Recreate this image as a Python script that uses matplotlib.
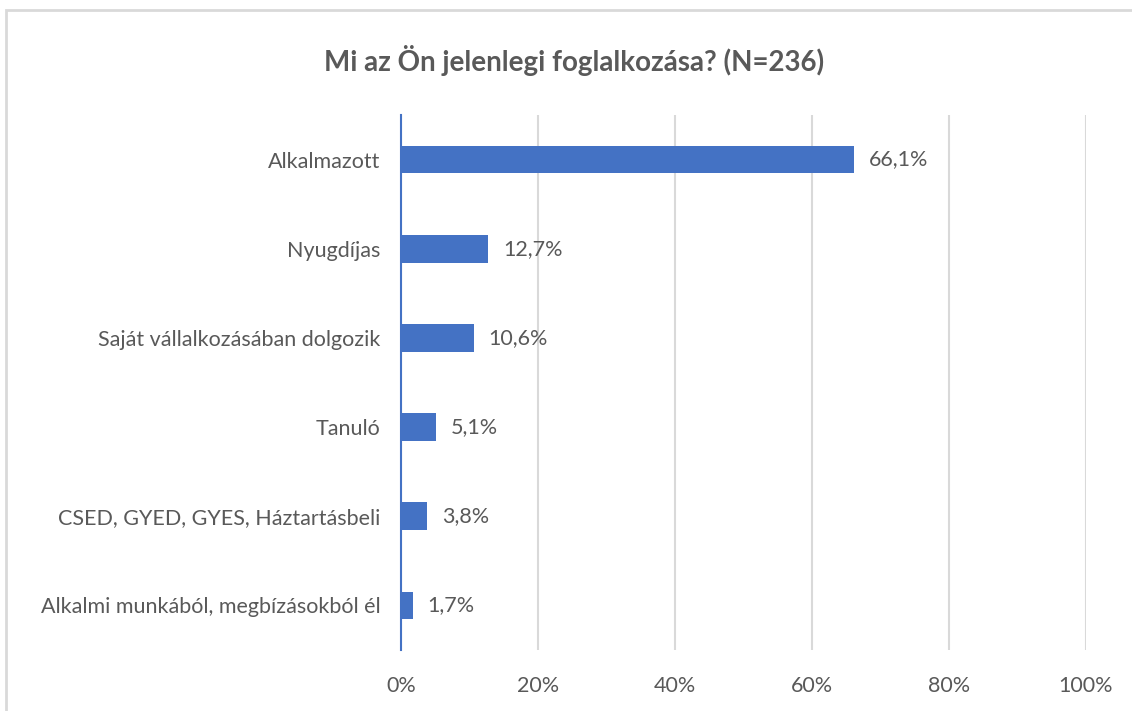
import matplotlib.pyplot as plt
from matplotlib.patches import Rectangle

categories = ['Alkalmazott', 'Nyugdíjas', 'Saját vállalkozásában dolgozik', 'Tanuló',
              'CSED, GYED, GYES, Háztartásbeli', 'Alkalmi munkából, megbízásokból él']
values = [66.1, 12.7, 10.6, 5.1, 3.8, 1.7]
xticks = [0, 20, 40, 60, 80, 100]

plt.rcParams['font.family'] = ['Lato', 'DejaVu Sans']
txt = '#595959'
blue = '#4472C4'

fig = plt.figure(figsize=(11.32, 7.11), dpi=100)
# chart frame (light gray border)
fig.patches.append(Rectangle((6 / 1132, -0.01), 1.02, 1 - 10 / 711 + 0.01, transform=fig.transFigure,
                             fill=False, edgecolor='#D9D9D9', linewidth=2))

ax = fig.add_axes([401 / 1132, 1 - 650 / 711, (1086 - 401) / 1132, (650 - 115) / 711])
y = list(range(len(categories)))
ax.barh(y, values, height=0.31, color=blue, zorder=3)
for yi, v in zip(y, values):
    ax.text(v + 2.2, yi, f'{v:.1f}%'.replace('.', ','), va='center', ha='left',
            fontsize=15.5, color=txt)

ax.set_xlim(0, 100)
ax.set_ylim(len(categories) - 0.5, -0.5)
ax.set_yticks(y)
ax.set_yticklabels(categories, fontsize=15.5, color=txt)
ax.set_xticks(xticks)
ax.set_xticklabels([f'{t}%' for t in xticks], fontsize=15.5, color=txt)
ax.tick_params(length=0)
ax.tick_params(axis='x', pad=19)
ax.tick_params(axis='y', pad=15)
ax.grid(axis='x', color='#D9D9D9', linewidth=1.5, zorder=0)
for s in ['top', 'right', 'bottom']:
    ax.spines[s].set_visible(False)
ax.spines['left'].set_color(blue)
ax.spines['left'].set_linewidth(1.5)
ax.spines['left'].set_zorder(4)

fig.text(574 / 1132, 1 - 60 / 711, 'Mi az Ön jelenlegi foglalkozása? (N=236)', ha='center', va='center',
         fontsize=20, fontweight='bold', color=txt)

fig.savefig('out.png', dpi=100)
